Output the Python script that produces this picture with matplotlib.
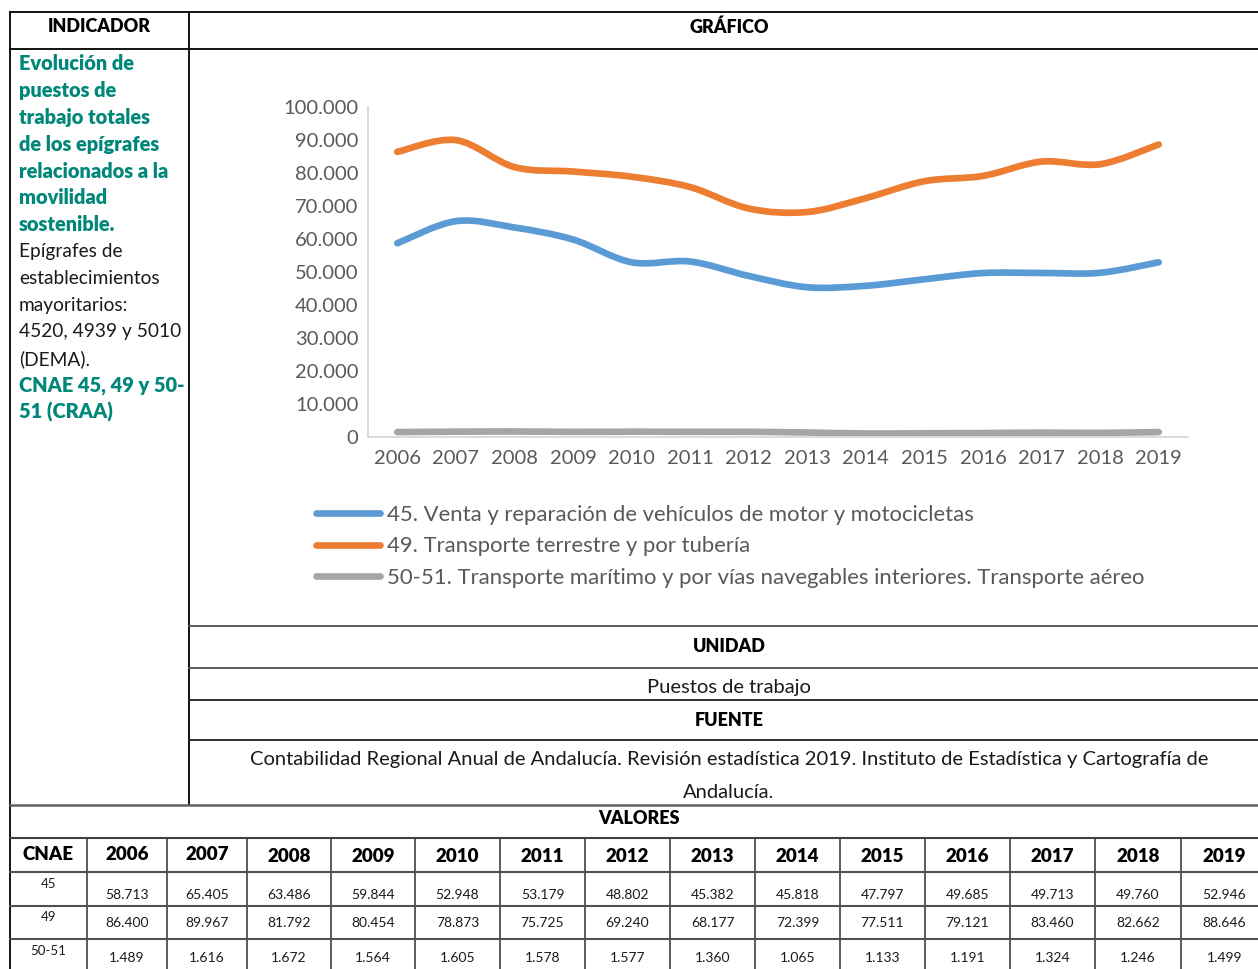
import matplotlib
matplotlib.use("Agg")
import matplotlib.pyplot as plt
from matplotlib.path import Path
from matplotlib.patches import PathPatch
from matplotlib.lines import Line2D

plt.rcParams['font.family'] = ['Lato', 'DejaVu Sans']

# data
years = [2006, 2007, 2008, 2009, 2010, 2011, 2012, 2013, 2014, 2015, 2016, 2017, 2018, 2019]
venta_45 = [58713, 65405, 63486, 59844, 52948, 53179, 48802, 45382, 45818, 47797, 49685, 49713, 49760, 52946]
transporte_49 = [86400, 89967, 81792, 80454, 78873, 75725, 69240, 68177, 72399, 77511, 79121, 83460, 82662, 88646]
maritimo_5051 = [1489, 1616, 1672, 1564, 1605, 1578, 1577, 1360, 1065, 1133, 1191, 1324, 1246, 1499]

series_labels = ["45. Venta y reparación de vehículos de motor y motocicletas",
                 "49. Transporte terrestre y por tubería",
                 "50-51. Transporte marítimo y por vías navegables interiores. Transporte aéreo"]
series_colors = ['#5B9BD5', '#ED7D31', '#A5A5A5']
row_labels = ['45', '49', '50-51']

W, H = 1258, 969
fig = plt.figure(figsize=(W / 100, H / 100), dpi=100)


def fx(x):
    return x / W


def fy(y):
    return 1 - y / H


def hline(y, x0, x1, color='#404040', lw=1.3):
    fig.add_artist(Line2D([fx(x0), fx(x1)], [fy(y), fy(y)], color=color, lw=lw))


def vline(x, y0, y1, color='#202020', lw=1.3):
    fig.add_artist(Line2D([fx(x), fx(x)], [fy(y0), fy(y1)], color=color, lw=lw))


def smooth_path(xs, ys, t=1 / 6):
    # Excel-like smoothed line: cubic bezier through the data points
    n = len(xs)
    verts = [(xs[0], ys[0])]
    codes = [Path.MOVETO]
    for i in range(n - 1):
        xp, yp = (xs[i - 1], ys[i - 1]) if i > 0 else (xs[i], ys[i])
        xn, yn = (xs[i + 2], ys[i + 2]) if i + 2 < n else (xs[i + 1], ys[i + 1])
        c1 = (xs[i] + (xs[i + 1] - xp) * t, ys[i] + (ys[i + 1] - yp) * t)
        c2 = (xs[i + 1] - (xn - xs[i]) * t, ys[i + 1] - (yn - ys[i]) * t)
        verts += [c1, c2, (xs[i + 1], ys[i + 1])]
        codes += [Path.CURVE4] * 3
    return Path(verts, codes)


# ---- chart ----
ax = fig.add_axes([fx(368), fy(437), (1188 - 368) / W, (437 - 107) / H])
xpos = list(range(len(years)))
handles = []
for vals, col, lab in zip([venta_45, transporte_49, maritimo_5051], series_colors, series_labels):
    ax.add_patch(PathPatch(smooth_path(xpos, vals), fill=False, edgecolor=col,
                           lw=4.8, capstyle='round', joinstyle='round'))
    handles.append(Line2D([], [], color=col, lw=4.8, solid_capstyle='round', label=lab))

ax.set_xlim(-0.5, len(years) - 0.5)
ax.set_ylim(0, 100000)
ax.set_yticks(range(0, 100001, 10000))
ax.set_yticklabels(['0' if v == 0 else f"{v:,}".replace(',', '.') for v in range(0, 100001, 10000)])
ax.set_xticks(xpos)
ax.set_xticklabels([str(y) for y in years])
ax.tick_params(axis='both', length=0, labelsize=14.5, labelcolor='#595959')
ax.tick_params(axis='y', pad=7)
ax.tick_params(axis='x', pad=9.5)
for s in ['top', 'right']:
    ax.spines[s].set_visible(False)
ax.spines['left'].set_color('#D9D9D9')
ax.spines['bottom'].set_color('#D9D9D9')
ax.spines['left'].set_linewidth(1.3)
ax.spines['bottom'].set_linewidth(1.3)

fig.legend(handles=handles, loc='upper left', bbox_to_anchor=(fx(316), fy(505)),
           frameon=False, fontsize=15.9, labelcolor='#595959', handlelength=2.9,
           handletextpad=0.33, labelspacing=0.52, borderpad=0, borderaxespad=0)

# ---- outer table frame ----
hline(12, 10, W, color='black')
hline(49, 10, W, color='black')
vline(10, 12, H, color='black')
vline(189, 12, 805, color='black')
fig.text(fx(99), fy(27), 'INDICADOR', ha='center', va='center', fontsize=13, fontweight='heavy')
fig.text(fx(729), fy(27), 'GRÁFICO', ha='center', va='center', fontsize=13, fontweight='heavy')

teal = '#00877A'
left_lines = [("Evolución de", teal, 'heavy'), ("puestos de", teal, 'heavy'),
              ("trabajo totales", teal, 'heavy'), ("de los epígrafes", teal, 'heavy'),
              ("relacionados a la", teal, 'heavy'), ("movilidad", teal, 'heavy'),
              ("sostenible.", teal, 'heavy'), ("Epígrafes de", '#1a1a1a', 'normal'),
              ("establecimientos", '#1a1a1a', 'normal'), ("mayoritarios:", '#1a1a1a', 'normal'),
              ("4520, 4939 y 5010", '#1a1a1a', 'normal'), ("(DEMA).", '#1a1a1a', 'normal'),
              ("CNAE 45, 49 y 50-", teal, 'heavy'), ("51 (CRAA)", teal, 'heavy')]
for i, (txt, col, wt) in enumerate(left_lines):
    fig.text(fx(19), fy(64 + i * 26.8), txt, ha='left', va='center',
             fontsize=14.4 if wt == 'heavy' else 13.8, color=col, fontweight=wt)

# unit / source rows
for y in [626, 668, 700, 740]:
    hline(y, 189, W, color='#505050' if y in (626, 668) else '#202020')
fig.text(fx(729), fy(646), 'UNIDAD', ha='center', va='center', fontsize=13, fontweight='heavy')
fig.text(fx(729), fy(688), 'Puestos de trabajo', ha='center', va='center', fontsize=14.5, color='#1a1a1a')
fig.text(fx(729), fy(720), 'FUENTE', ha='center', va='center', fontsize=13, fontweight='heavy')
fig.text(fx(729), fy(760), 'Contabilidad Regional Anual de Andalucía. Revisión estadística 2019. '
         'Instituto de Estadística y Cartografía de', ha='center', va='center', fontsize=14.5, color='#1a1a1a')
fig.text(fx(729), fy(792), 'Andalucía.', ha='center', va='center', fontsize=14.5, color='#1a1a1a')

# ---- values table ----
hline(805, 10, W, color='#606060', lw=1.8)
hline(838, 10, W, color='#404040', lw=1.5)
fig.text(fx(639), fy(819), 'VALORES', ha='center', va='center', fontsize=13, fontweight='heavy')

col_edges = [10, 87, 167, 247, 331, 415, 500, 585, 670, 755, 840, 925, 1010, 1095, 1181, 1268]
row_edges = [838, 872, 906, 939, 975]
for x in col_edges[1:-1]:
    vline(x, 838, H, color='#404040', lw=1.2)
for y in row_edges[1:-1]:
    hline(y, 10, W, color='#505050', lw=1.5)

centers = [(col_edges[i] + col_edges[i + 1]) / 2 for i in range(len(col_edges) - 1)]
fig.text(fx(centers[0]), fy(854), 'CNAE', ha='center', va='center', fontsize=13.5, fontweight='heavy')
for i, yr in enumerate(years):
    yy = 854 if i < 2 else 857
    fig.text(fx(centers[i + 1]), fy(yy), str(yr), ha='center', va='center', fontsize=13.5, fontweight='heavy')

label_y = [884, 917, 951]
value_y = [895, 923, 958]
for r, vals in enumerate([venta_45, transporte_49, maritimo_5051]):
    fig.text(fx(centers[0]), fy(label_y[r]), row_labels[r], ha='center', va='center', fontsize=9.5, color='#1a1a1a')
    for i, v in enumerate(vals):
        fig.text(fx(centers[i + 1]), fy(value_y[r]), f"{v:,}".replace(',', '.'),
                 ha='center', va='center', fontsize=10, color='#1a1a1a')

fig.savefig('out.png', dpi=100)
